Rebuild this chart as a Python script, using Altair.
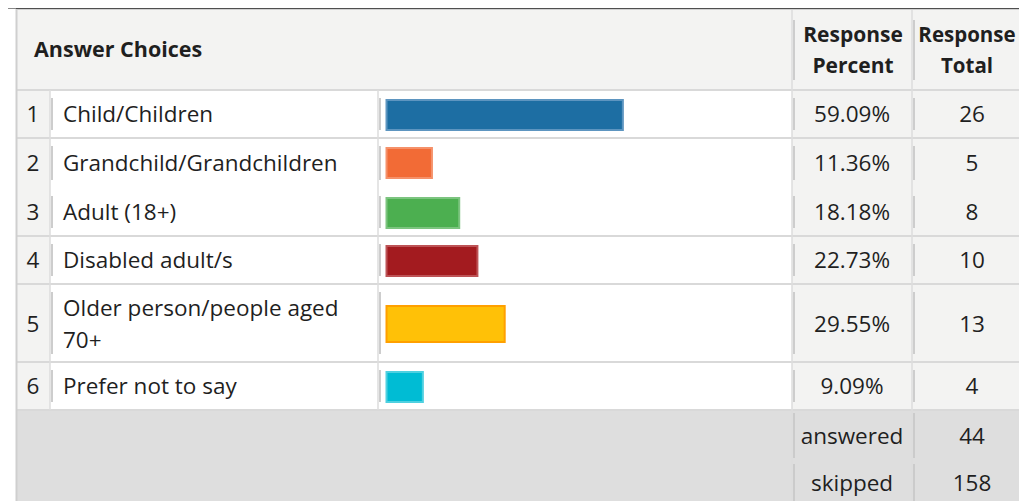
import textwrap
import altair as alt
import pandas as pd

# ---------------- data ----------------
numbers = [1, 2, 3, 4, 5, 6]
labels = [
    "Child/Children",
    "Grandchild/Grandchildren",
    "Adult (18+)",
    "Disabled adult/s",
    "Older person/people aged 70+",
    "Prefer not to say",
]
percents = [59.09, 11.36, 18.18, 22.73, 29.55, 9.09]
totals = [26, 5, 8, 10, 13, 4]
bar_fill = ["#1d6ea3", "#f26b36", "#4caf50", "#a31b1f", "#ffc107", "#00bcd4"]
bar_edge = ["#5d95c0", "#f5916a", "#7cc47f", "#bd5356", "#ffa000", "#4fd0e0"]
summary_names = ["answered", "skipped"]
summary_values = [44, 158]
head_choices = "Answer Choices"
head_percent = "Response\nPercent"
head_total = "Response\nTotal"

# ---------------- layout (reference pixel coordinates) ----------------
W, H = 1011, 493
X0, Y0 = 8, 8
FONT = "Open Sans"
FS = 22.5
FSB = 21
TXT = "#1f1f1f"
LH = 32

C_NUM, C_LAB, C_BAR, C_PCT, C_TOT, C_END = 16, 50, 378, 792, 912, 1040
HEAD = (10, 90)
ROWS = [(90, 138), (138, 188), (188, 236), (236, 284), (284, 362), (362, 410)]
FOOT = [(410, 461), (461, 512)]
ROW_MID = [115, 164, 213, 261, 325, 387]
BAR_MID = [115, 163, 213, 261, 324, 387]
BAR_H = [30, 30, 30, 30, 36, 30]
FOOT_MID = [437, 484]
BAR_START = 386.5
BAR_FULL = 400

xs = alt.Scale(domain=[X0, X0 + W], range=[0, W], nice=False, zero=False)
ys = alt.Scale(domain=[Y0, Y0 + H], range=[0, H], nice=False, zero=False)
ps = alt.Scale(domain=[0, 100], range=[BAR_START - X0, BAR_START + BAR_FULL - X0],
               nice=False, zero=False)


def X(f):
    return alt.X(f, type="quantitative", scale=xs, axis=None)


def Y(f):
    return alt.Y(f, type="quantitative", scale=ys, axis=None)


# backgrounds
bg = pd.DataFrame([
    dict(x=C_NUM, x2=C_END, y=0, y2=9, c="#4f4f4f"),
    dict(x=C_NUM, x2=C_END, y=HEAD[0], y2=HEAD[1], c="#f3f3f2"),
    dict(x=C_NUM, x2=C_LAB, y=HEAD[1], y2=ROWS[-1][1], c="#f3f3f2"),
    dict(x=C_LAB, x2=C_PCT, y=HEAD[1], y2=ROWS[-1][1], c="#ffffff"),
    dict(x=C_PCT, x2=C_END, y=HEAD[1], y2=ROWS[-1][1], c="#f3f3f2"),
    dict(x=C_NUM, x2=C_END, y=FOOT[0][0], y2=FOOT[-1][1], c="#dedede"),
])
bg_layer = alt.Chart(bg).mark_rect().encode(
    x=X("x"), x2="x2", y=Y("y"), y2="y2", fill=alt.Color("c:N", scale=None))

# grid lines
lines = []
for yy in [HEAD[1], ROWS[0][1], ROWS[2][1], ROWS[3][1], ROWS[4][1], ROWS[5][1]]:
    lines.append(dict(x=C_NUM, x2=C_END, y=yy, y2=yy, c="#d9d9d9", w=2))
lines.append(dict(x=C_NUM, x2=C_END, y=9.5, y2=9.5, c="#d0d0d0", w=1))
lines.append(dict(x=C_NUM + 0.5, x2=C_NUM + 0.5, y=9, y2=FOOT[-1][1], c="#cfcfcf", w=2))
for xx in [C_LAB, C_BAR]:
    lines.append(dict(x=xx, x2=xx, y=HEAD[1], y2=ROWS[-1][1], c="#dcdcdc", w=1.5))
for xx in [C_PCT, C_TOT]:
    lines.append(dict(x=xx, x2=xx, y=HEAD[0], y2=FOOT[-1][1], c="#dcdcdc", w=1.5))
# inner cell marks
for xx in [C_PCT, C_TOT]:
    lines.append(dict(x=xx + 2, x2=xx + 2, y=HEAD[0] + 10, y2=HEAD[1] - 10, c="#cdcdcd", w=2))
for (t, b) in ROWS:
    for xx in [C_LAB, C_BAR, C_PCT, C_TOT]:
        lines.append(dict(x=xx + 2, x2=xx + 2, y=t + 8, y2=b - 8, c="#cdcdcd", w=2))
for (t, b) in FOOT:
    for xx in [C_PCT, C_TOT]:
        lines.append(dict(x=xx + 2, x2=xx + 2, y=t + 3, y2=b - 3, c="#cbcbcb", w=2))
ln = pd.DataFrame(lines)
line_layer = alt.Chart(ln).mark_rule().encode(
    x=X("x"), x2="x2", y=Y("y"), y2="y2",
    color=alt.Color("c:N", scale=None),
    strokeWidth=alt.StrokeWidth("w:Q", scale=None))

# bars
bars_df = pd.DataFrame(dict(
    pct=percents, fill=bar_fill, edge=bar_edge,
    top=[m - h / 2 for m, h in zip(BAR_MID, BAR_H)],
    bot=[m + h / 2 for m, h in zip(BAR_MID, BAR_H)],
))
bar_layer = alt.Chart(bars_df).transform_calculate(start="0").mark_rect(strokeWidth=2).encode(
    x=alt.X("start:Q", scale=ps, axis=None), x2="pct:Q",
    y=Y("top"), y2="bot",
    fill=alt.Color("fill:N", scale=None),
    stroke=alt.Stroke("edge:N", scale=None))

# body text
wrapped = [textwrap.wrap(l, 24) for l in labels]
body = pd.DataFrame(dict(
    num=[str(n) for n in numbers],
    label=["\n".join(w) for w in wrapped],
    pct=[f"{p:.2f}%" for p in percents],
    tot=[str(t) for t in totals],
    y=ROW_MID,
    ly=[m - (len(w) - 1) * LH / 2 for m, w in zip(ROW_MID, wrapped)],
))
tk = dict(font=FONT, fontSize=FS, color=TXT, baseline="middle", lineBreak="\n", lineHeight=LH)
num_layer = alt.Chart(body).mark_text(align="center", **tk).encode(
    x=alt.datum(33, scale=xs), y=Y("y"), text="num:N")
lab_layer = alt.Chart(body).mark_text(align="left", **tk).encode(
    x=alt.datum(63, scale=xs), y=Y("ly"), text="label:N")
pct_layer = alt.Chart(body).mark_text(align="center", **tk).encode(
    x=alt.datum(852, scale=xs), y=Y("y"), text="pct:N")
tot_layer = alt.Chart(body).mark_text(align="center", **tk).encode(
    x=alt.datum(972, scale=xs), y=Y("y"), text="tot:N")

foot = pd.DataFrame(dict(name=summary_names, val=[str(v) for v in summary_values], y=FOOT_MID))
fname_layer = alt.Chart(foot).mark_text(align="center", **tk).encode(
    x=alt.datum(852, scale=xs), y=Y("y"), text="name:N")
fval_layer = alt.Chart(foot).mark_text(align="center", **tk).encode(
    x=alt.datum(972, scale=xs), y=Y("y"), text="val:N")

hk = dict(tk, fontWeight="bold", lineHeight=31)
head_l = alt.Chart(pd.DataFrame(dict(t=[head_choices], x=[34], y=[51]))).mark_text(
    align="left", **dict(hk, fontSize=21.5)).encode(x=X("x"), y=Y("y"), text="t:N")
head_p = alt.Chart(pd.DataFrame(dict(t=[head_percent], x=[853], y=[36]))).mark_text(
    align="center", **dict(hk, fontSize=FSB)).encode(x=X("x"), y=Y("y"), text="t:N")
head_t = alt.Chart(pd.DataFrame(dict(t=[head_total], x=[967], y=[36]))).mark_text(
    align="center", **dict(hk, fontSize=20.5)).encode(x=X("x"), y=Y("y"), text="t:N")

chart = alt.layer(
    bg_layer, line_layer, bar_layer, num_layer, lab_layer, pct_layer, tot_layer,
    fname_layer, fval_layer, head_l, head_p, head_t
).resolve_scale(x="independent").properties(
    width=W, height=H, padding=0, autosize=alt.AutoSizeParams(type="none")
).configure_view(stroke=None)

chart.save("out.html", embed_options={"renderer": "svg", "actions": False})
